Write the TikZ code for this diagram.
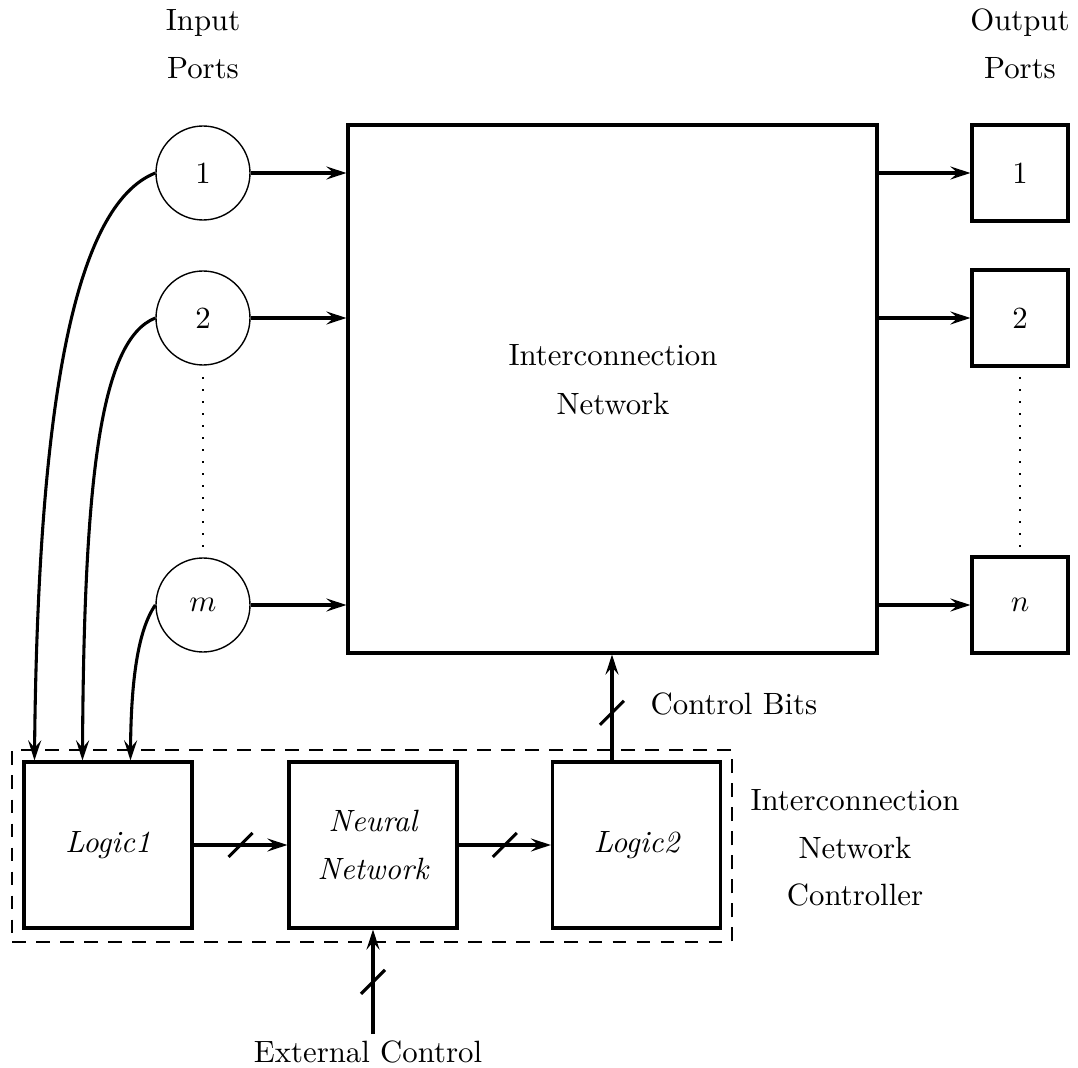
\documentclass[tikz,border=0pt]{standalone}
\usetikzlibrary{arrows.meta,calc}
\newcommand\pxu{0.3247pt}
\begin{document}
\begin{tikzpicture}[x=\pxu, y=-\pxu,
  thickline/.style={line width=1pt},
  arr/.style={thickline, -{Stealth[length=6.5pt,width=4.2pt,inset=2.4pt]}},
  port/.style={circle, draw, line width=0.45pt, minimum size=94*\pxu, inner sep=0pt},
  outbox/.style={rectangle, draw, line width=1pt, minimum width=96*\pxu, minimum height=96*\pxu, inner sep=0pt},
  logicbox/.style={rectangle, draw, line width=1pt, minimum width=168*\pxu, minimum height=166*\pxu, inner sep=0pt, font=\itshape, align=center},
  lbl/.style={align=center, inner sep=0pt},
  dots/.style={line width=0.6pt, dash pattern=on 0.6pt off 3.3pt},
  slashmark/.pic={\draw[line width=1pt] (-12,12) -- (12,-12);}
]
\useasboundingbox (0,0) rectangle (1078,1068);

% labels
\node[lbl] (inlbl) at (203,44) {Input\\[3.6pt]Ports};
\node[lbl] (outlbl) at (1020,44) {Output\\[3.6pt]Ports};

% input ports
\node[port] (in1) at (203,173) {1};
\node[port] (in2) at (203,318) {2};
\node[port] (inm) at (203,605) {$m$};

% network
\node[rectangle, draw, line width=1pt, minimum width=529*\pxu, minimum height=528*\pxu, inner sep=0pt] (net) at (612.5,389) {};
\node[lbl] (netlbl) at (613,380) {Interconnection\\[3.9pt]Network};

% output ports
\node[outbox] (out1) at (1020,173) {1};
\node[outbox] (out2) at (1020,318) {2};
\node[outbox] (outn) at (1020,605) {$n$};

% dotted lines
\coordinate (d1a) at (203,377); \coordinate (d1b) at (203,547);
\coordinate (d2a) at (1020,377); \coordinate (d2b) at (1020,547);
\draw[dots] (d1a) -- (d1b);
\draw[dots] (d2a) -- (d2b);

% controller
\node[rectangle, draw, line width=0.7pt, dash pattern=on 4.5pt off 3.3pt, minimum width=720*\pxu, minimum height=192*\pxu, inner sep=0pt] (ctrl) at (372,846) {};
\node[logicbox] (logic1) at (108,845) {Logic1};
\node[logicbox] (nn) at (373,845) {Neural\\[3.5pt]Network};
\node[logicbox] (logic2) at (636.5,845) {Logic2};
\node[lbl] (ctrllbl) at (855,848) {Interconnection\\[3.4pt]Network\\[3.4pt]Controller};

% input arrows
\draw[arr] (in1.east) -- (in1.east -| net.west);
\draw[arr] (in2.east) -- (in2.east -| net.west);
\draw[arr] (inm.east) -- (inm.east -| net.west);

% output arrows
\draw[arr] (out1.west -| net.east) -- (out1.west);
\draw[arr] (out2.west -| net.east) -- (out2.west);
\draw[arr] (outn.west -| net.east) -- (outn.west);

% curves to Logic1
\draw[arr] (in1.west) .. controls (75,205) and (38,400) .. ($(logic1.north west)+(12,0)$);
\draw[arr] (in2.west) .. controls (100,340) and (84,480) .. ($(logic1.north west)+(60,0)$);
\draw[arr] (inm.west) .. controls (138,630) and (131,680) .. ($(logic1.north west)+(108,0)$);

% bus arrows
\draw[arr] (logic1.east) -- coordinate[pos=0.5] (s1) (nn.west);
\pic at (s1) {slashmark};
\draw[arr] (nn.east) -- coordinate[pos=0.5] (s2) (logic2.west);
\pic at (s2) {slashmark};

\coordinate (cbstart) at ($(logic2.north)+(-24.5,0)$);
\draw[arr] (cbstart) -- coordinate[pos=0.45] (s3) (cbstart |- net.south);
\pic at (s3) {slashmark};
\node[anchor=west, inner sep=0pt] (cblbl) at (650,704) {Control Bits};

\node[inner sep=0pt] (ext) at (368,1052) {External Control};
\draw[arr] ($(nn.south |- ext.north)+(0,-6)$) -- coordinate[pos=0.5] (s4) (nn.south);
\pic at (s4) {slashmark};
\end{tikzpicture}
\end{document}
